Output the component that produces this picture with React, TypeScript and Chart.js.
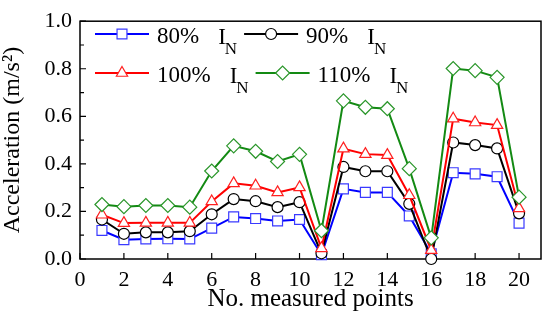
import React, { useEffect, useRef } from 'react';
import { Chart, registerables } from 'chart.js';
import { drawPoint } from 'chart.js/helpers';

Chart.register(...registerables);

// ---- data ----
const measuredPoints = [1, 2, 3, 4, 5, 6, 7, 8, 9, 10, 11, 12, 13, 14, 15, 16, 17, 18, 19, 20];
const accel80 = [0.12, 0.081, 0.084, 0.085, 0.084, 0.13, 0.177, 0.17, 0.16, 0.166, 0.018, 0.295, 0.28, 0.28, 0.181, 0.022, 0.363, 0.358, 0.346, 0.151];
const accel90 = [0.166, 0.106, 0.112, 0.112, 0.117, 0.188, 0.252, 0.243, 0.218, 0.239, 0.024, 0.387, 0.369, 0.369, 0.232, 0.0, 0.49, 0.479, 0.465, 0.192];
const accel100 = [0.186, 0.151, 0.152, 0.152, 0.152, 0.242, 0.318, 0.308, 0.28, 0.301, 0.045, 0.464, 0.441, 0.437, 0.268, 0.037, 0.59, 0.574, 0.563, 0.213];
const accel110 = [0.229, 0.22, 0.225, 0.225, 0.218, 0.37, 0.476, 0.453, 0.41, 0.44, 0.119, 0.665, 0.638, 0.632, 0.38, 0.089, 0.801, 0.792, 0.764, 0.26];
const seriesLabels = ['80%', '90%', '100%', '110%'];
const legendSymbol = 'I';
const legendSubscript = 'N';
const xTickValues = [0, 2, 4, 6, 8, 10, 12, 14, 16, 18, 20];
const yTickValues = [0, 0.2, 0.4, 0.6, 0.8, 1.0];
const yMinorTickValues = [0.1, 0.3, 0.5, 0.7, 0.9];
const xTitle = 'No. measured points';
const yTitle = 'Acceleration (m/s\u00B2)';

const FONT = "'Liberation Serif', 'Times New Roman', serif";

const styles = [
  { line: '#0000ff', point: '#3a3aff', pointStyle: 'rect', radius: 7 },
  { line: '#000000', point: '#000000', pointStyle: 'circle', radius: 5.5 },
  { line: '#ff0000', point: '#ff2020', pointStyle: 'triangle', radius: 6.5 },
  { line: '#138a13', point: '#2a962a', pointStyle: 'rectRot', radius: 7 },
];

const framePlugin = {
  id: 'frame',
  beforeDatasetsDraw(chart: any) {
    const { ctx, chartArea, scales } = chart;
    const { left, right, top, bottom } = chartArea;
    ctx.save();
    ctx.strokeStyle = '#000';
    ctx.lineWidth = 1.5;
    ctx.strokeRect(left, top, right - left, bottom - top);
    ctx.lineWidth = 1.2;
    ctx.beginPath();
    for (const v of yTickValues) {
      const py = scales.y.getPixelForValue(v);
      ctx.moveTo(left, py);
      ctx.lineTo(left + 6, py);
    }
    for (const v of yMinorTickValues) {
      const py = scales.y.getPixelForValue(v);
      ctx.moveTo(left, py);
      ctx.lineTo(left + 4, py);
    }
    for (const v of xTickValues) {
      const px = scales.x.getPixelForValue(v);
      ctx.moveTo(px, bottom);
      ctx.lineTo(px, bottom - 6);
    }
    ctx.stroke();
    ctx.restore();
  },
};

const legendPlugin = {
  id: 'customLegend',
  afterDraw(chart: any) {
    const { ctx } = chart;
    const rows = [[0, 1], [2, 3]];
    const rowY = [34, 73];
    ctx.save();
    rows.forEach((row, ri) => {
      let x = 95;
      const y = rowY[ri];
      row.forEach((di) => {
        const ds = chart.data.datasets[di];
        const st = styles[di];
        ctx.strokeStyle = st.line;
        ctx.lineWidth = 2;
        ctx.beginPath();
        ctx.moveTo(x, y);
        ctx.lineTo(x + 54, y);
        ctx.stroke();
        ctx.fillStyle = '#fff';
        ctx.strokeStyle = st.point;
        ctx.lineWidth = 1.2;
        drawPoint(ctx, { pointStyle: st.pointStyle, radius: st.radius, rotation: 0, borderWidth: 1.2 } as any, x + 27, y);
        ctx.fillStyle = '#000';
        ctx.textBaseline = 'alphabetic';
        ctx.textAlign = 'left';
        ctx.font = `23px ${FONT}`;
        const tx = x + 62;
        ctx.fillText(ds.label, tx, y + 9);
        const tw = ctx.measureText(ds.label).width;
        const ix = tx + tw + 19;
        ctx.fillText(legendSymbol, ix, y + 10);
        const iw = ctx.measureText(legendSymbol).width;
        ctx.font = `17px ${FONT}`;
        const nx = ix + iw - 1;
        ctx.fillText(legendSubscript, nx, y + 20);
        const nw = ctx.measureText(legendSubscript).width;
        x = nx + nw + 7;
      });
    });
    ctx.restore();
  },
};

export default function App() {
  const canvasRef = useRef<HTMLCanvasElement | null>(null);

  useEffect(() => {
    document.body.style.margin = '0';
    const series = [accel80, accel90, accel100, accel110];
    const chart = new Chart(canvasRef.current as HTMLCanvasElement, {
      type: 'line',
      data: {
        datasets: series.map((vals, i) => ({
          label: seriesLabels[i],
          data: measuredPoints.map((x, j) => ({ x, y: vals[j] })),
          borderColor: styles[i].line,
          borderWidth: 2,
          pointStyle: styles[i].pointStyle as any,
          pointRadius: styles[i].radius,
          pointBackgroundColor: '#ffffff',
          pointBorderColor: styles[i].point,
          pointBorderWidth: 1.2,
          tension: 0,
          clip: false as any,
          order: 3 - i,
        })),
      },
      options: {
        animation: false,
        responsive: true,
        maintainAspectRatio: false,
        layout: { padding: { top: 16, right: 9, left: 0, bottom: 0 } },
        plugins: { legend: { display: false }, tooltip: { enabled: false } },
        scales: {
          x: {
            type: 'linear',
            min: 0,
            max: 21,
            grid: { display: false, drawTicks: false },
            border: { display: false },
            afterBuildTicks: (scale: any) => {
              scale.ticks = xTickValues.map((v) => ({ value: v }));
            },
            afterFit: (scale: any) => {
              scale.height = 61;
            },
            ticks: {
              color: '#000',
              font: { family: FONT, size: 22 },
              padding: 8,
              maxRotation: 0,
              autoSkip: false,
              callback: (v: any) => String(v),
            },
            title: {
              display: true,
              text: xTitle,
              color: '#000',
              font: { family: FONT, size: 25 },
              padding: { top: 0, bottom: 6 },
            },
          },
          y: {
            type: 'linear',
            min: 0,
            max: 1,
            grid: { display: false, drawTicks: false },
            border: { display: false },
            afterBuildTicks: (scale: any) => {
              scale.ticks = yTickValues.map((v) => ({ value: v }));
            },
            afterFit: (scale: any) => {
              scale.width = 80;
            },
            ticks: {
              color: '#000',
              font: { family: FONT, size: 22 },
              padding: 8,
              callback: (v: any) => Number(v).toFixed(1),
            },
            title: {
              display: true,
              text: yTitle,
              color: '#000',
              font: { family: FONT, size: 24, lineHeight: 1 },
              padding: { top: 1, bottom: 0 },
            },
          },
        },
      },
      plugins: [framePlugin, legendPlugin],
    });
    return () => chart.destroy();
  }, []);

  return (
    <div style={{ position: 'absolute', left: 0, top: 0, width: 550, height: 320, background: '#fff' }}>
      <canvas ref={canvasRef} />
    </div>
  );
}
